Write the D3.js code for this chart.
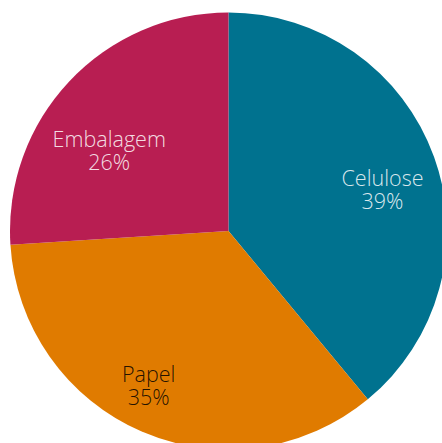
<!DOCTYPE html>
<html><head><meta charset="utf-8">
<script src="https://cdn.jsdelivr.net/npm/d3@7"></script>
<style>html,body{margin:0;padding:0;background:#fff;overflow:hidden}</style>
</head><body>
<svg id="c" width="442" height="443"></svg>
<script>
const categories = ["Celulose", "Papel", "Embalagem"];
const values = [39, 35, 26];
const colors = ["#00728f", "#e07b00", "#b81e52"];
const textColors = ["rgba(255,255,255,0.85)", "rgba(0,0,0,0.85)", "rgba(255,255,255,0.85)"];
// label placement tweaks (layout only)
const labelAngleShift = [7.5, 2.8, -11.8];
const labelRadius = [157.6, 180.8, 139.7];

const svg = d3.select("#c");
const cx = 228.5, cy = 231, R = 218.5;
const g = svg.append("g").attr("transform", `translate(${cx},${cy})`);
const data = categories.map((c, i) => ({c, v: values[i], i}));
const pie = d3.pie().value(d => d.v).sort(null);
const arc = d3.arc().innerRadius(0).outerRadius(R);
const arcs = pie(data);
g.selectAll("path").data(arcs).join("path")
  .attr("d", arc).attr("fill", d => colors[d.data.i]);
const lab = g.selectAll("text").data(arcs).join("text")
  .attr("text-anchor", "middle")
  .style("font-family", "'Open Sans', sans-serif").style("font-weight", 300)
  .style("font-size", "21.5px").attr("fill", d => textColors[d.data.i])
  .attr("transform", d => {
    const a = (d.startAngle + d.endAngle) / 2 + labelAngleShift[d.data.i] * Math.PI / 180;
    const r = labelRadius[d.data.i];
    return `translate(${r * Math.sin(a)},${-r * Math.cos(a)})`;
  });
lab.append("tspan").attr("x", 0).attr("y", -11.5).text(d => d.data.c);
lab.append("tspan").attr("x", 0).attr("y", 12).text(d => d.data.v + "%");
</script>
</body></html>
